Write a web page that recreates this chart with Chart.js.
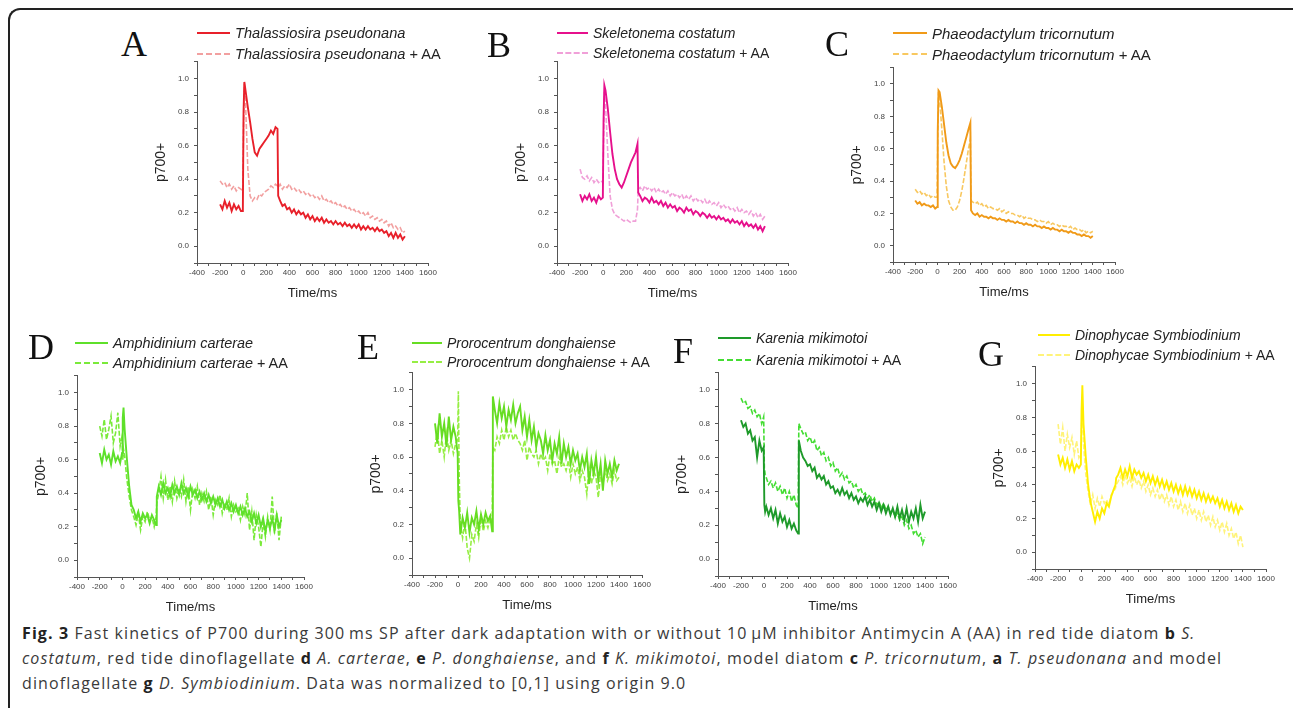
<!DOCTYPE html>
<html lang="en">
<head>
<meta charset="UTF-8" />
<title>Fig. 3 Fast kinetics of P700</title>
<script src="https://cdn.jsdelivr.net/npm/chart.js"></script>
<style>
  body { margin: 0; width: 1293px; height: 708px; background: #fff; position: relative; overflow: hidden;
         font-family: "Liberation Sans", Arial, sans-serif; }
  .frame { position: absolute; left: 8px; top: 8px; width: 1300px; height: 720px;
           border-top: 2px solid #222; border-left: 2px solid #222; border-top-left-radius: 12px; }
  .letter { position: absolute; font-family: "Liberation Serif", "Times New Roman", serif; font-size: 36px;
            line-height: 36px; color: #111; }
  .legend-row { position: absolute; display: flex; align-items: center; height: 22px; white-space: nowrap;
                color: #222; }
  .legend-row .swatch { height: 0; margin-right: 5px; }
  canvas { position: absolute; }
  .caption { position: absolute; left: 22px; top: 621px; font-family: "Open Sans", "Noto Sans", sans-serif;
             font-size: 16px; letter-spacing: 1.1px; line-height: 25px; color: #3a3a3a; white-space: nowrap; }
  .caption b { color: #222; }
</style>
</head>
<body>
<div class="frame"></div>
<div class="caption">
  <b>Fig. 3</b> Fast kinetics of P700 during 300&#8201;ms SP after dark adaptation with or without 10&#8201;μM inhibitor Antimycin A (AA) in red tide diatom <b>b</b> <i>S.</i><br>
  <i>costatum</i>, red tide dinoflagellate <b>d</b> <i>A. carterae</i>, <b>e</b> <i>P. donghaiense</i>, and <b>f</b> <i>K. mikimotoi</i>, model diatom <b>c</b> <i>P. tricornutum</i>, <b>a</b> <i>T. pseudonana</i> and model<br>
  dinoflagellate <b>g</b> <i>D. Symbiodinium</i>. Data was normalized to [0,1] using origin 9.0
</div>

<script>
  // time axis (ms), shared by every trace
  const time = [-200,-180,-160,-140,-120,-100,-80,-60,-40,-20,
    -3,3,10,
    20,40,60,80,100,120,140,160,180,200,220,240,260,280,
    297,303,
    320,340,360,380,400,420,440,460,480,500,
    520,540,560,580,600,620,640,660,680,700,
    720,740,760,780,800,820,840,860,880,900,
    920,940,960,980,1000,1020,1040,1060,1080,1100,
    1120,1140,1160,1180,1200,1220,1240,1260,1280,1300,
    1320,1340,1360,1380,1400];

  const xTicks = [-400,-200,0,200,400,600,800,1000,1200,1400,1600];
  const yTicks = [0.0,0.2,0.4,0.6,0.8,1.0];

  // A  Thalassiosira pseudonana
  const aSolid = [0.25,0.22,0.27,0.23,0.26,0.21,0.25,0.22,0.24,0.21,
    0.21,0.80,0.98,
    0.93,0.83,0.74,0.64,0.56,0.54,0.58,0.60,0.62,0.64,0.66,0.69,0.67,0.71,
    0.70,0.30,
    0.27,0.24,0.25,0.22,0.23,0.20,0.22,0.19,0.21,0.19,
    0.20,0.17,0.19,0.16,0.18,0.15,0.17,0.15,0.17,0.14,
    0.16,0.14,0.15,0.13,0.15,0.13,0.14,0.12,0.14,0.12,
    0.13,0.11,0.13,0.11,0.13,0.10,0.12,0.10,0.12,0.10,
    0.11,0.09,0.11,0.09,0.10,0.08,0.09,0.06,0.08,0.05,
    0.08,0.05,0.07,0.04,0.06];
  const aAA = [0.39,0.37,0.38,0.35,0.37,0.34,0.36,0.33,0.35,0.34,
    0.33,0.72,0.97,
    0.86,0.46,0.30,0.27,0.29,0.28,0.31,0.30,0.32,0.33,0.34,0.36,0.35,0.37,
    0.36,0.35,
    0.37,0.34,0.36,0.35,0.37,0.34,0.35,0.33,0.34,0.32,
    0.33,0.31,0.32,0.30,0.31,0.29,0.30,0.28,0.30,0.27,
    0.28,0.26,0.27,0.25,0.26,0.24,0.25,0.23,0.24,0.22,
    0.23,0.21,0.22,0.20,0.21,0.19,0.20,0.18,0.20,0.17,
    0.18,0.16,0.17,0.15,0.16,0.14,0.15,0.12,0.14,0.11,
    0.12,0.10,0.11,0.08,0.09];

  // B  Skeletonema costatum
  const bSolid = [0.31,0.27,0.30,0.28,0.31,0.27,0.29,0.26,0.30,0.28,
    0.29,0.75,0.96,
    0.93,0.82,0.68,0.55,0.46,0.40,0.37,0.35,0.38,0.42,0.46,0.50,0.53,0.56,
    0.61,0.32,
    0.30,0.27,0.29,0.28,0.26,0.29,0.26,0.27,0.25,0.27,
    0.24,0.26,0.23,0.25,0.23,0.24,0.21,0.23,0.22,0.20,
    0.23,0.21,0.22,0.19,0.21,0.20,0.18,0.20,0.19,0.17,
    0.19,0.17,0.18,0.16,0.18,0.16,0.17,0.15,0.16,0.14,
    0.16,0.14,0.15,0.13,0.15,0.12,0.14,0.12,0.13,0.11,
    0.13,0.10,0.12,0.09,0.12];
  const bAA = [0.46,0.41,0.40,0.42,0.39,0.41,0.38,0.40,0.38,0.39,
    0.38,0.62,0.92,
    0.85,0.55,0.30,0.22,0.19,0.18,0.17,0.16,0.15,0.16,0.15,0.14,0.15,0.15,
    0.22,0.34,
    0.35,0.33,0.36,0.34,0.35,0.33,0.35,0.32,0.34,0.32,
    0.33,0.31,0.33,0.30,0.32,0.30,0.31,0.29,0.31,0.28,
    0.30,0.28,0.30,0.27,0.29,0.27,0.28,0.26,0.28,0.25,
    0.27,0.25,0.26,0.24,0.26,0.23,0.25,0.23,0.24,0.22,
    0.23,0.21,0.23,0.20,0.22,0.20,0.21,0.19,0.21,0.18,
    0.20,0.17,0.19,0.16,0.18];

  // C  Phaeodactylum tricornutum
  const cSolid = [0.28,0.26,0.27,0.25,0.26,0.25,0.25,0.24,0.25,0.23,
    0.24,0.70,0.96,
    0.95,0.86,0.75,0.64,0.56,0.51,0.49,0.48,0.50,0.53,0.57,0.62,0.67,0.72,
    0.76,0.22,
    0.20,0.19,0.20,0.18,0.19,0.18,0.18,0.17,0.18,0.17,
    0.17,0.16,0.17,0.16,0.16,0.15,0.16,0.15,0.15,0.14,
    0.15,0.14,0.14,0.13,0.14,0.13,0.13,0.12,0.13,0.12,
    0.12,0.11,0.12,0.11,0.11,0.10,0.11,0.10,0.10,0.09,
    0.10,0.09,0.09,0.08,0.09,0.08,0.08,0.07,0.07,0.06,
    0.07,0.06,0.06,0.05,0.06];
  const cAA = [0.35,0.33,0.34,0.32,0.33,0.31,0.32,0.30,0.31,0.30,
    0.30,0.65,0.95,
    0.90,0.72,0.52,0.37,0.28,0.24,0.22,0.22,0.24,0.28,0.34,0.42,0.51,0.60,
    0.66,0.28,
    0.27,0.26,0.27,0.25,0.26,0.24,0.25,0.23,0.24,0.23,
    0.23,0.22,0.23,0.21,0.22,0.20,0.21,0.20,0.20,0.19,
    0.19,0.18,0.19,0.17,0.18,0.17,0.17,0.16,0.16,0.15,
    0.16,0.15,0.15,0.14,0.15,0.13,0.14,0.13,0.13,0.12,
    0.13,0.12,0.12,0.11,0.12,0.10,0.11,0.10,0.10,0.09,
    0.10,0.08,0.09,0.08,0.09];

  // D  Amphidinium carterae
  const dSolid = [0.64,0.58,0.66,0.60,0.63,0.57,0.65,0.59,0.62,0.58,
    0.64,0.85,0.91,
    0.78,0.60,0.44,0.33,0.30,0.25,0.29,0.23,0.28,0.25,0.27,0.22,0.27,0.24,
    0.21,0.38,
    0.44,0.39,0.46,0.40,0.43,0.38,0.45,0.40,0.44,0.39,
    0.46,0.40,0.43,0.38,0.44,0.39,0.42,0.37,0.41,0.36,
    0.40,0.35,0.39,0.34,0.38,0.33,0.37,0.32,0.36,0.31,
    0.35,0.30,0.34,0.29,0.33,0.28,0.32,0.27,0.31,0.26,
    0.29,0.23,0.28,0.22,0.27,0.20,0.25,0.17,0.24,0.19,
    0.25,0.18,0.27,0.20,0.24];
  const dAA = [0.80,0.74,0.84,0.72,0.78,0.86,0.70,0.76,0.88,0.68,
    0.74,0.60,0.66,
    0.62,0.48,0.38,0.30,0.26,0.21,0.28,0.18,0.26,0.23,0.29,0.24,0.26,0.20,
    0.26,0.34,
    0.40,0.50,0.37,0.48,0.36,0.44,0.35,0.47,0.37,0.43,
    0.38,0.48,0.35,0.44,0.30,0.42,0.37,0.44,0.33,0.40,
    0.35,0.41,0.30,0.38,0.27,0.36,0.33,0.39,0.28,0.34,
    0.30,0.37,0.26,0.33,0.29,0.31,0.24,0.32,0.27,0.40,
    0.18,0.29,0.12,0.27,0.20,0.08,0.23,0.14,0.26,0.18,
    0.38,0.16,0.28,0.12,0.26];

  // E  Prorocentrum donghaiense
  const eSolid = [0.80,0.68,0.86,0.72,0.80,0.66,0.84,0.70,0.78,0.72,
    0.62,0.34,0.28,
    0.14,0.24,0.18,0.27,0.15,0.24,0.20,0.28,0.17,0.26,0.20,0.27,0.22,0.25,
    0.16,0.96,
    0.88,0.80,0.92,0.83,0.90,0.78,0.88,0.82,0.91,0.80,
    0.86,0.90,0.76,0.84,0.72,0.82,0.70,0.78,0.66,0.74,
    0.70,0.62,0.73,0.64,0.70,0.58,0.68,0.62,0.72,0.56,
    0.68,0.60,0.66,0.56,0.64,0.58,0.62,0.52,0.60,0.54,
    0.62,0.44,0.58,0.50,0.60,0.46,0.56,0.40,0.58,0.50,
    0.56,0.48,0.58,0.52,0.56];
  const eAA = [0.66,0.76,0.62,0.70,0.60,0.74,0.64,0.70,0.62,0.68,
    0.70,0.99,0.50,
    0.20,0.12,0.22,0.06,0.00,0.14,0.10,0.20,0.12,0.24,0.16,0.22,0.18,0.24,
    0.20,0.66,
    0.64,0.72,0.68,0.76,0.70,0.78,0.72,0.76,0.70,0.74,
    0.70,0.68,0.64,0.70,0.58,0.66,0.62,0.60,0.64,0.56,
    0.62,0.58,0.60,0.52,0.62,0.56,0.58,0.50,0.60,0.54,
    0.56,0.52,0.58,0.48,0.56,0.50,0.54,0.46,0.52,0.48,
    0.38,0.54,0.44,0.52,0.48,0.36,0.50,0.44,0.52,0.46,
    0.50,0.44,0.52,0.46,0.48];

  // F  Karenia mikimotoi
  const fSolid = [0.82,0.78,0.80,0.74,0.76,0.70,0.72,0.60,0.70,0.64,
    0.66,0.32,0.28,
    0.31,0.26,0.30,0.24,0.29,0.21,0.27,0.22,0.25,0.19,0.23,0.18,0.21,0.17,
    0.15,0.70,
    0.64,0.60,0.58,0.55,0.56,0.52,0.54,0.48,0.50,0.47,
    0.49,0.44,0.46,0.42,0.43,0.39,0.41,0.38,0.42,0.38,
    0.40,0.36,0.39,0.35,0.37,0.33,0.36,0.34,0.37,0.32,
    0.35,0.31,0.34,0.29,0.33,0.28,0.32,0.27,0.31,0.26,
    0.30,0.25,0.31,0.24,0.29,0.23,0.30,0.22,0.28,0.24,
    0.30,0.22,0.32,0.24,0.28];
  const fAA = [0.95,0.92,0.93,0.89,0.90,0.86,0.88,0.84,0.86,0.80,
    0.84,0.54,0.50,
    0.48,0.44,0.46,0.42,0.45,0.40,0.43,0.38,0.42,0.36,0.40,0.34,0.38,0.32,
    0.30,0.80,
    0.77,0.74,0.75,0.70,0.72,0.68,0.70,0.64,0.66,0.61,
    0.63,0.58,0.60,0.55,0.57,0.52,0.54,0.49,0.51,0.47,
    0.49,0.45,0.46,0.42,0.44,0.40,0.42,0.38,0.39,0.36,
    0.38,0.34,0.36,0.32,0.34,0.30,0.33,0.29,0.31,0.27,
    0.29,0.25,0.27,0.23,0.25,0.20,0.23,0.18,0.20,0.15,
    0.17,0.13,0.15,0.09,0.13];

  // G  Dinophycae Symbiodinium
  const gSolid = [0.58,0.52,0.56,0.50,0.55,0.49,0.54,0.48,0.52,0.50,
    0.52,0.84,0.99,
    0.76,0.56,0.40,0.30,0.24,0.18,0.24,0.20,0.26,0.23,0.29,0.27,0.33,0.37,
    0.40,0.44,
    0.46,0.50,0.44,0.49,0.45,0.51,0.44,0.49,0.46,0.48,
    0.44,0.47,0.42,0.46,0.41,0.45,0.40,0.44,0.39,0.43,
    0.38,0.42,0.37,0.41,0.36,0.40,0.35,0.39,0.34,0.39,
    0.34,0.38,0.33,0.37,0.32,0.36,0.31,0.35,0.30,0.34,
    0.30,0.33,0.29,0.32,0.27,0.31,0.26,0.30,0.25,0.29,
    0.24,0.28,0.23,0.27,0.25];
  const gAA = [0.76,0.64,0.74,0.60,0.70,0.62,0.68,0.58,0.66,0.56,
    0.58,0.74,0.86,
    0.64,0.46,0.36,0.28,0.34,0.26,0.32,0.27,0.33,0.29,0.31,0.28,0.34,0.36,
    0.38,0.40,
    0.42,0.45,0.40,0.46,0.41,0.44,0.39,0.45,0.40,0.43,
    0.38,0.42,0.36,0.40,0.34,0.38,0.33,0.37,0.31,0.35,
    0.30,0.34,0.28,0.33,0.27,0.31,0.25,0.30,0.24,0.29,
    0.23,0.28,0.22,0.26,0.20,0.25,0.19,0.24,0.18,0.22,
    0.16,0.21,0.15,0.19,0.13,0.18,0.12,0.17,0.10,0.14,
    0.08,0.12,0.05,0.10,0.03];

  const species = ["Thalassiosira pseudonana", "Skeletonema costatum", "Phaeodactylum tricornutum",
    "Amphidinium carterae", "Prorocentrum donghaiense", "Karenia mikimotoi", "Dinophycae Symbiodinium"];
  const letters = ["A", "B", "C", "D", "E", "F", "G"];
  const solidSeries = [aSolid, bSolid, cSolid, dSolid, eSolid, fSolid, gSolid];
  const aaSeries = [aAA, bAA, cAA, dAA, eAA, fAA, gAA];

  // look of each panel (kept apart from the data)
  const solidColors = ["#e8202a", "#e6108c", "#f09a18", "#5ee02a", "#66dd22", "#1e9a2a", "#ffee00"];
  const aaColors = ["#f2a0a0", "#f0a0d8", "#f8c860", "#7aea3a", "#96ee44", "#44dd33", "#fff37a"];
  // plot box: [x of -400, x of 1600, y of 1.1, y of -0.1]
  const plotBoxes = [[197,428,60,263],[557,788,60,263],[893,1115,66,262],
    [77,304,374,577],[412,642,371,575],[718,948,371,576],[1035,1266,365,569]];
  // letter [left, top]; legend [swatch x, text x, row1 y, row2 y]
  const letterPos = [[121,26],[487,27],[825,26],[28,329],[357,329],[673,333],[978,336]];
  const legendPos = [[197,235,33,54],[557,593,33,53],[893,932,33,54],
    [75,113,343,363],[412,447,343,362],[718,756,338,360],[1038,1075,335,355]];
  // each panel was pasted at its own scale, so the legend text differs a little
  const legendFont = [14.6, 14, 15, 14.4, 14, 14, 14];

  const Y_AXIS_W = 46, X_AXIS_H = 38, PAD_T = 8, PAD_R = 14;

  Chart.defaults.font.family = "'Liberation Sans', Arial, sans-serif";
  Chart.defaults.color = "#333";

  function addText(cls, left, top, html) {
    const el = document.createElement("div");
    el.className = cls;
    el.style.left = left + "px";
    el.style.top = top + "px";
    el.innerHTML = html;
    document.body.appendChild(el);
    return el;
  }

  function addLegend(i) {
    const [sx, tx, y1, y2] = legendPos[i];
    const w = tx - sx - 5;
    const r1 = addText("legend-row", sx, y1 - 11,
      `<span class="swatch" style="width:${w}px;border-top:2px solid ${solidColors[i]}"></span><i>${species[i]}</i>`);
    const r2 = addText("legend-row", sx, y2 - 11,
      `<span class="swatch" style="width:${w}px;border-top:2px dashed ${aaColors[i]}"></span><i>${species[i]}</i>&nbsp;+ AA`);
    r1.style.fontSize = r2.style.fontSize = legendFont[i] + "px";
  }

  function makePanel(i) {
    const [x0, x1, yTop, yBottom] = plotBoxes[i];
    const W = x1 - x0 + Y_AXIS_W + PAD_R;
    const H = yBottom - yTop + PAD_T + X_AXIS_H;
    const canvas = document.createElement("canvas");
    canvas.width = W;
    canvas.height = H;
    canvas.style.left = (x0 - Y_AXIS_W) + "px";
    canvas.style.top = (yTop - PAD_T) + "px";
    document.body.appendChild(canvas);

    addText("letter", letterPos[i][0], letterPos[i][1], letters[i]);
    addLegend(i);

    const toPoints = vals => time.map((t, k) => ({ x: t, y: vals[k] }));

    new Chart(canvas, {
      type: "line",
      data: {
        datasets: [
          { label: species[i], data: toPoints(solidSeries[i]), borderColor: solidColors[i],
            borderWidth: 1.9, pointRadius: 0, order: 0 },
          { label: species[i] + " + AA", data: toPoints(aaSeries[i]), borderColor: aaColors[i],
            borderWidth: 1.6, borderDash: [5, 2], pointRadius: 0, order: 1 },
        ],
      },
      options: {
        responsive: false,
        animation: false,
        layout: { padding: { top: PAD_T, right: PAD_R, left: 0, bottom: 0 } },
        plugins: { legend: { display: false }, tooltip: { enabled: false } },
        scales: {
          x: {
            type: "linear", min: -400, max: 1600,
            afterFit: s => { s.height = X_AXIS_H; },
            ticks: {
              stepSize: 100, autoSkip: false, maxRotation: 0, minRotation: 0, padding: 2,
              font: { size: 8, family: "'Liberation Sans Narrow', 'Liberation Sans', Arial" }, color: "#444",
              callback: v => (xTicks.includes(v) ? String(v) : ""),
            },
            grid: { drawOnChartArea: false, tickLength: 3, color: "#555" },
            border: { color: "#555", width: 1 },
            title: { display: true, text: "Time/ms", font: { size: 13 }, color: "#222", padding: { top: 0, bottom: 0 } },
          },
          y: {
            type: "linear", min: -0.1, max: 1.1,
            afterFit: s => { s.width = Y_AXIS_W; },
            ticks: {
              stepSize: 0.1, autoSkip: false, padding: 5,
              font: { size: 8, family: "'Liberation Sans Narrow', 'Liberation Sans', Arial" }, color: "#444",
              callback: v => {
                const n = Math.round(v * 10) / 10;
                return yTicks.some(t => Math.abs(t - n) < 1e-9) ? n.toFixed(1) : "";
              },
            },
            grid: { drawOnChartArea: false, tickLength: 3, color: "#555" },
            border: { color: "#555", width: 1 },
            title: { display: true, text: "p700+", font: { size: 14 }, color: "#222", padding: { top: 2, bottom: 0 } },
          },
        },
      },
    });
  }

  letters.forEach((_, i) => makePanel(i));
</script>
</body>
</html>
